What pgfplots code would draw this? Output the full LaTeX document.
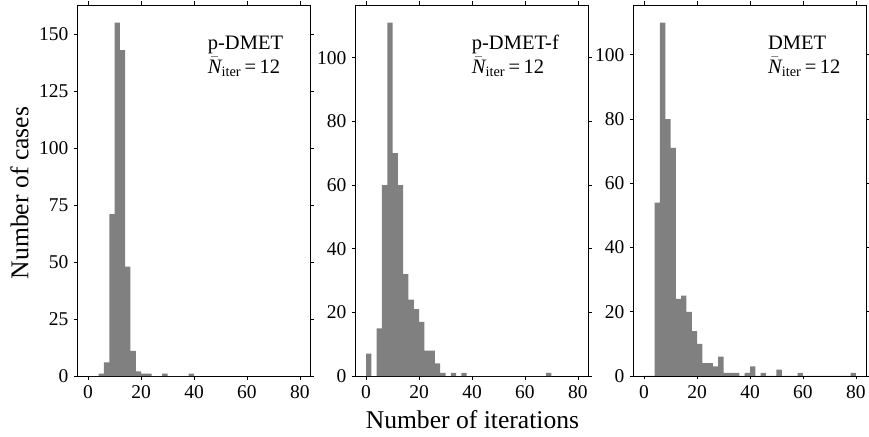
\documentclass[border=0pt]{standalone}
\usepackage{fontspec}
\setmainfont{Liberation Serif}
\usepackage{amsmath}
\usepackage{pgfplots}
\pgfplotsset{compat=1.18}
\definecolor{barg}{RGB}{128,128,128}
\pgfplotsset{
  hist/.style={
    scale only axis, width=233pt, height=371pt,
    anchor=south west,
    xmin=-4, xmax=84, ymin=0,
    xtick={0,20,40,60,80},
    minor tick num=0,
    tick align=outside,
    xticklabel pos=lower, yticklabel pos=left,
    xtick pos=both, ytick pos=both,
    major tick length=3.5pt,
    every tick/.style={black, line width=0.8pt},
    axis line style={black, line width=0.8pt},
    ticklabel style={font=\fontsize{19.5}{20}\selectfont},
    /pgf/number format/assume math mode=true,
    xticklabel style={inner sep=0pt, yshift=-5.5pt},
    yticklabel style={inner sep=0pt, xshift=-5.5pt},
    scaled y ticks=false,
  },
  hbar/.style={ybar interval, fill=barg, draw=none},
}
\newcommand{\annfont}{\fontsize{20.5}{23.3}\selectfont}
\newcommand{\niter}{$\bar{\textit{N}}_{\text{iter}}\,\text{=}\,\text{12}$}
\begin{document}
\begin{tikzpicture}
% Panel 1: p-DMET
\begin{axis}[hist, at={(77.5pt,60pt)}, ymax=162.75, ytick={0,25,50,75,100,125,150}]
\addplot[hbar] coordinates {
(0,0) (2,0) (4,1) (6,6) (8,71) (10,155) (12,143) (14,48) (16,11) (18,2)
(20,1) (22,1) (24,0) (26,0) (28,1) (30,0) (32,0) (34,0) (36,0) (38,1) (40,0)};
\end{axis}
% Panel 2: p-DMET-f
\begin{axis}[hist, at={(355.5pt,60pt)}, ymax=116.55, ytick={0,20,40,60,80,100}]
\addplot[hbar] coordinates {
(0,7) (2,0) (4,15) (6,60) (8,111) (10,70) (12,60) (14,32) (16,24) (18,21)
(20,17) (22,8) (24,8) (26,4) (28,1) (30,0) (32,1) (34,0) (36,1) (38,0)
(40,0) (42,0) (44,0) (46,0) (48,0) (50,0) (52,0) (54,0) (56,0) (58,0)
(60,0) (62,0) (64,0) (66,0) (68,1) (70,0)};
\end{axis}
% Panel 3: DMET
\begin{axis}[hist, at={(633.5pt,60pt)}, ymax=115.5, ytick={0,20,40,60,80,100}]
\addplot[hbar] coordinates {
(0,0) (2,0) (4,54) (6,110) (8,80) (10,71) (12,24) (14,25) (16,20) (18,14)
(20,10) (22,4) (24,4) (26,3) (28,6) (30,1) (32,1) (34,1) (36,0) (38,1)
(40,3) (42,0) (44,1) (46,0) (48,0) (50,2) (52,0) (54,0) (56,0) (58,1)
(60,0) (62,0) (64,0) (66,0) (68,0) (70,0) (72,0) (74,0) (76,0) (78,1) (80,0)};
\end{axis}
% annotations
\node[anchor=base west, inner sep=0pt, align=left, font=\annfont] at (207.7pt,362.7pt) {p-DMET\\\niter};
\node[anchor=base west, inner sep=0pt, align=left, font=\annfont] at (471.7pt,362.7pt) {p-DMET-f\\\niter};
\node[anchor=base west, inner sep=0pt, align=left, font=\annfont] at (767.9pt,362.7pt) {DMET\\\niter};
% axis labels
\node[anchor=base, inner sep=0pt, font=\fontsize{25.6}{27}\selectfont] at (472.4pt,7.7pt) {Number of iterations};
\node[anchor=base, rotate=90, inner sep=0pt, font=\fontsize{25.6}{27}\selectfont] at (28.3pt,243pt) {Number of cases};
\pgfresetboundingbox
\path[use as bounding box] (0pt,0pt) rectangle (869pt,436pt);
\end{tikzpicture}
\end{document}
